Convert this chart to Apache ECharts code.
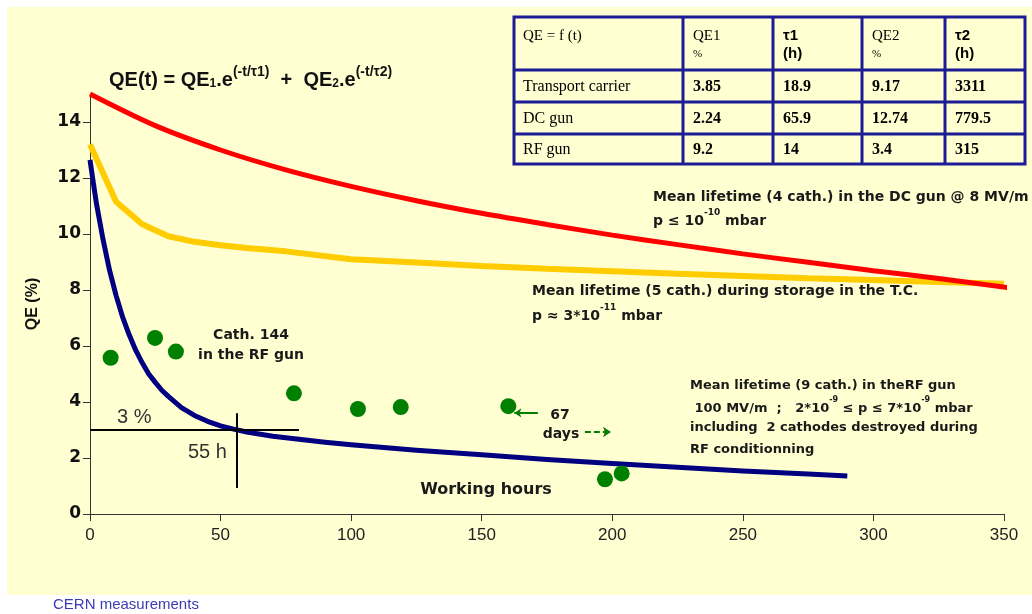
<!DOCTYPE html>
<html><head><meta charset="utf-8">
<script src="https://cdn.jsdelivr.net/npm/echarts@6/dist/echarts.min.js"></script>
<style>html,body{margin:0;padding:0;background:#fff}#c{width:1032px;height:614px}</style>
</head><body><div id="c"></div>
<script>
// ---- data ----
const xTicks = [0, 50, 100, 150, 200, 250, 300, 350];
const yTicks = [0, 2, 4, 6, 8, 10, 12, 14];

// DC gun (red)
const dcT  = [0, 25, 50, 75, 100, 125, 150, 175, 200, 225, 250, 275, 300, 325, 352];
const dcQE = [15.0, 13.87, 13.0, 12.29, 11.70, 11.19, 10.74, 10.34, 9.96, 9.62, 9.29, 8.99, 8.69, 8.41, 8.08];

// Transport carrier (yellow)
const tcT  = [0, 10, 20, 30, 40, 50, 60, 75, 100, 125, 150, 175, 200, 225, 250, 275, 300, 325, 350];
const tcQE = [13.2, 11.15, 10.35, 9.92, 9.72, 9.6, 9.5, 9.38, 9.1, 8.98, 8.86, 8.76, 8.67, 8.58, 8.5, 8.42, 8.36, 8.29, 8.22];

// RF gun fit (blue)
const rfT  = [0, 1, 2.5, 5, 7.5, 10, 12.5, 15, 17.5, 20, 22.5, 25, 27.5, 30, 35, 40, 45, 50, 55, 60, 70, 80, 90, 100, 125, 150, 175, 200, 225, 250, 275, 290];
const rfQE = [12.65, 12.0, 11.07, 9.8, 8.7, 7.8, 7.03, 6.4, 5.85, 5.4, 5.0, 4.7, 4.42, 4.2, 3.8, 3.52, 3.31, 3.15, 3.03, 2.93, 2.78, 2.67, 2.56, 2.47, 2.28, 2.12, 1.95, 1.8, 1.67, 1.54, 1.43, 1.36];

// Cathode 144 measurements in the RF gun (green dots)
const c144T  = [7.9, 24.9, 32.9, 78.1, 102.6, 119, 160.2, 197.2, 203.6];
const c144QE = [5.58, 6.29, 5.80, 4.31, 3.75, 3.82, 3.85, 1.24, 1.45];

// reference lines "3 %" / "55 h"
const ref3pct = [[0, 3], [80, 3]];
const ref55h  = [[56.3, 3.6], [56.3, 0.93]];

// table
const tableHeader = ['QE = f (t)', 'QE1', 'τ1', 'QE2', 'τ2'];
const tableUnits  = ['', '%', '(h)', '%', '(h)'];
const tableRows = [
  ['Transport carrier', '3.85', '18.9', '9.17', '3311'],
  ['DC gun', '2.24', '65.9', '12.74', '779.5'],
  ['RF gun', '9.2', '14', '3.4', '315']
];

const zip = (a, b) => a.map((v, i) => [v, b[i]]);

const chart = echarts.init(document.getElementById('c'));

const txtFont = 'DejaVu Sans';
const g = [];
g.push({type: 'rect', z: -100, shape: {x: 7, y: 7, width: 1025, height: 588}, style: {fill: '#FFFFD2'}});

function txt(x, y, text, opt) {
  opt = opt || {};
  g.push({type: 'text', z: 50, style: Object.assign({
    x: x, y: y, text: text, fill: '#1a1a1a',
    fontFamily: txtFont, fontSize: 14, fontWeight: 'bold',
    textAlign: 'left', textVerticalAlign: 'middle', align: 'left', verticalAlign: 'middle'
  }, opt)});
}
function supRich(fs) {
  return {
    n: {fontSize: fs, fontWeight: 'bold', fontFamily: txtFont, fill: '#1a1a1a', color: '#1a1a1a', lineHeight: 22, verticalAlign: 'bottom', height: 18},
    s: {fontSize: Math.round(fs * 0.65), fontWeight: 'bold', fontFamily: txtFont, fill: '#1a1a1a', color: '#1a1a1a', lineHeight: 22, verticalAlign: 'top'}
  };
}

// formula
g.push({type: 'text', z: 50, style: {
  x: 109, y: 65, text: '{m|QE(t) = QE}{b|1}{m|.e}{p|(-t/τ1)}{m|  +  QE}{b|2}{m|.e}{p|(-t/τ2)}',
  textVerticalAlign: 'top', verticalAlign: 'top', lineHeight: 30,
  rich: {
    m: {fontSize: 20, fontWeight: 'bold', fontFamily: 'Liberation Sans', fill: '#111', color: '#111', lineHeight: 30},
    b: {fontSize: 12, fontWeight: 'bold', fontFamily: 'Liberation Sans', fill: '#111', color: '#111', lineHeight: 30, verticalAlign: 'bottom', height: 22},
    p: {fontSize: 14, fontWeight: 'bold', fontFamily: 'Liberation Sans', fill: '#111', color: '#111', lineHeight: 30, verticalAlign: 'top', height: 14}
  }
}});

// DC gun annotation
txt(653, 197, 'Mean lifetime (4 cath.) in the DC gun @ 8 MV/m');
g.push({type: 'text', z: 50, style: {x: 653, y: 219, text: '{n|p ≤ 10}{s|-10}{n| mbar}', textVerticalAlign: 'middle', verticalAlign: 'middle', rich: supRich(14)}});
// TC annotation
txt(532, 291, 'Mean lifetime (5 cath.) during storage in the T.C.');
g.push({type: 'text', z: 50, style: {x: 532, y: 314, text: '{n|p ≈ 3*10}{s|-11}{n| mbar}', textVerticalAlign: 'middle', verticalAlign: 'middle', rich: supRich(14)}});
// RF annotation
txt(690, 386, 'Mean lifetime (9 cath.) in theRF gun', {fontSize: 13});
g.push({type: 'text', z: 50, style: {x: 690, y: 407, text: '{n| 100 MV/m  ;   2*10}{s|-9}{n| ≤ p ≤ 7*10}{s|-9}{n| mbar}', textVerticalAlign: 'middle', verticalAlign: 'middle', rich: supRich(13)}});
txt(690, 428, 'including  2 cathodes destroyed during', {fontSize: 13});
txt(690, 450, 'RF conditionning', {fontSize: 13});
// Cath 144
txt(251, 335, 'Cath. 144', {textAlign: 'center', align: 'center'});
txt(251, 355, 'in the RF gun', {textAlign: 'center', align: 'center'});
// 67 days
txt(560, 415, '67', {textAlign: 'center', align: 'center'});
txt(561, 434, 'days', {textAlign: 'center', align: 'center'});
// 3 % / 55 h
txt(117, 417, '3 %', {fontFamily: 'Liberation Sans', fontWeight: 'normal', fontSize: 20, fill: '#333'});
txt(188, 452, '55 h', {fontFamily: 'Liberation Sans', fontWeight: 'normal', fontSize: 20, fill: '#333'});
// Working hours
txt(486, 490, 'Working hours', {fontSize: 16, textAlign: 'center', align: 'center'});
// footer
txt(53, 605, 'CERN measurements', {fontFamily: 'Liberation Sans', fontWeight: 'normal', fontSize: 15, fill: '#3a3ab4'});

// table
const colX = [514, 683, 773, 862, 945, 1025];
const rowY = [17, 70, 102, 134, 164];
const tblColor = '#1c1c96';
g.push({type: 'rect', z: 40, shape: {x: colX[0], y: rowY[0], width: colX[5] - colX[0], height: rowY[4] - rowY[0]}, style: {fill: 'none', stroke: tblColor, lineWidth: 3}});
colX.slice(1, 5).forEach(x => g.push({type: 'line', z: 40, shape: {x1: x, y1: rowY[0], x2: x, y2: rowY[4]}, style: {stroke: tblColor, lineWidth: 3}}));
rowY.slice(1, 4).forEach(y => g.push({type: 'line', z: 40, shape: {x1: colX[0], y1: y, x2: colX[5], y2: y}, style: {stroke: tblColor, lineWidth: 3}}));
const serif = 'Liberation Serif';
tableHeader.forEach((h, i) => {
  const sans = (i === 2 || i === 4);
  txt(colX[i] + (i === 0 ? 9 : 10), 36, h, {fontFamily: sans ? 'Liberation Sans' : serif, fontWeight: sans ? 'bold' : 'normal', fontSize: 15, fill: '#000'});
  if (tableUnits[i]) txt(colX[i] + 10, 54, tableUnits[i], {fontFamily: sans ? 'Liberation Sans' : serif, fontWeight: sans ? 'bold' : 'normal', fontSize: sans ? 15 : 11, fill: '#000'});
});
tableRows.forEach((r, ri) => {
  const cy = (rowY[ri + 1] + rowY[ri + 2]) / 2 + 1;
  r.forEach((c, ci) => {
    txt(colX[ci] + (ci === 0 ? 9 : 10), cy, c, {fontFamily: serif, fontWeight: ci === 0 ? 'normal' : 'bold', fontSize: 16, fill: '#000'});
  });
});

const option = {
  backgroundColor: '#ffffff',
  animation: false,
  grid: {left: 90, right: 28, top: 94, bottom: 100, containLabel: false},
  xAxis: {
    type: 'value', min: 0, max: 350, interval: 50,
    axisLine: {lineStyle: {color: '#333', width: 1}},
    axisTick: {show: true, inside: false, length: 7, lineStyle: {color: '#333'}},
    splitLine: {show: false},
    axisLabel: {fontFamily: 'Liberation Sans', fontSize: 17, color: '#222', margin: 13}
  },
  yAxis: {
    type: 'value', min: 0, max: 15,
    name: 'QE (%)', nameLocation: 'middle', nameGap: 49, nameRotate: 90,
    nameTextStyle: {fontFamily: 'Liberation Sans', fontWeight: 'bold', fontSize: 16, color: '#111'},
    axisLine: {show: true, lineStyle: {color: '#333', width: 1}},
    axisTick: {show: true, inside: false, length: 7, customValues: yTicks, lineStyle: {color: '#333'}},
    splitLine: {show: false},
    axisLabel: {customValues: yTicks, fontFamily: 'DejaVu Sans', fontWeight: 'bold', fontSize: 17, color: '#111', margin: 9}
  },
  graphic: g,
  series: [
    {type: 'line', name: 'Transport carrier', data: zip(tcT, tcQE), symbol: 'none', smooth: false, clip: false, z: 3,
      lineStyle: {color: '#FFCC00', width: 6}},
    {type: 'line', name: 'DC gun', data: zip(dcT, dcQE), symbol: 'none', smooth: 0.3, clip: false, z: 4,
      lineStyle: {color: '#FF0000', width: 5}},
    {type: 'line', name: 'RF gun', data: zip(rfT, rfQE), symbol: 'none', smooth: false, z: 5,
      lineStyle: {color: '#000080', width: 5, join: 'round'}},
    {type: 'line', data: ref3pct, symbol: 'none', z: 6, lineStyle: {color: '#000', width: 2}},
    {type: 'line', data: ref55h, symbol: 'none', z: 6, lineStyle: {color: '#000', width: 2}},
    {type: 'scatter', name: 'Cath. 144', data: zip(c144T, c144QE), symbolSize: 16, z: 7,
      itemStyle: {color: '#008000', opacity: 1}},
    {type: 'lines', coordinateSystem: 'cartesian2d', z: 7, symbol: ['arrow', 'none'], symbolSize: 7,
      lineStyle: {color: '#008000', width: 2, opacity: 1},
      data: [{coords: [[162.5, 3.61], [171.5, 3.61]]}]},
    {type: 'lines', coordinateSystem: 'cartesian2d', z: 7, symbol: ['none', 'arrow'], symbolSize: 8,
      lineStyle: {color: '#008000', width: 2, opacity: 1, type: [6, 3]},
      data: [{coords: [[189.5, 2.93], [199.5, 2.93]]}]}
  ]
};
chart.setOption(option);
</script>
</body></html>
